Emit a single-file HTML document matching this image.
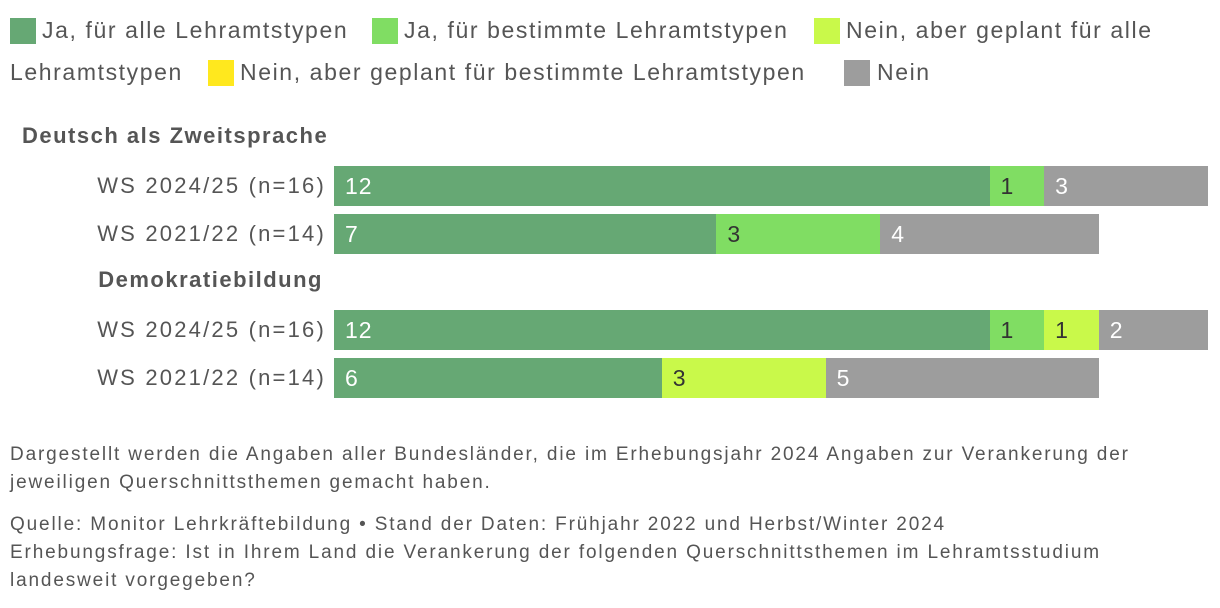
<!DOCTYPE html>
<html><head><meta charset="utf-8"><style>
body{margin:0;width:1220px;height:608px;background:#fff;font-family:"Liberation Sans",sans-serif;color:#555;overflow:hidden;position:relative}
.abs{position:absolute;white-space:nowrap}
.sw{position:absolute;width:26px;height:26px}
.lg{font-size:23px;letter-spacing:1.6px}
.t{font-size:22px;letter-spacing:2.2px}
.b{font-size:22px;letter-spacing:1.5px;font-weight:bold}
.f{font-size:19px;color:#555;letter-spacing:1.85px}
</style></head><body>
<div>
<div class="sw" style="left:10px;top:18px;background:#66a874"></div><div class="abs lg" style="left:42px;top:17px">Ja, für alle Lehramtstypen</div>
<div class="sw" style="left:372px;top:18px;background:#80dd63"></div><div class="abs lg" style="left:404px;top:17px">Ja, für bestimmte Lehramtstypen</div>
<div class="sw" style="left:814px;top:18px;background:#c9f94a"></div><div class="abs lg" style="left:846px;top:17px">Nein, aber geplant für alle</div>
<div class="abs lg" style="left:10px;top:59px">Lehramtstypen</div>
<div class="sw" style="left:208px;top:60px;background:#ffe81e"></div><div class="abs lg" style="left:240px;top:59px">Nein, aber geplant für bestimmte Lehramtstypen</div>
<div class="sw" style="left:844px;top:60px;background:#9d9d9d"></div><div class="abs lg" style="left:877px;top:59px">Nein</div>
</div>
<div class="abs b" style="left:22px;top:123px">Deutsch als Zweitsprache</div>
<div class="abs b" style="right:897px;top:267px">Demokratiebildung</div>
<div id="chart"></div>
<div class="abs f" style="left:10px;top:441px;line-height:28px">Dargestellt werden die Angaben aller Bundesländer, die im Erhebungsjahr 2024 Angaben zur Verankerung der<br>jeweiligen Querschnittsthemen gemacht haben.</div>
<div class="abs f" style="left:10px;top:511px;line-height:28px">Quelle: Monitor Lehrkräftebildung • Stand der Daten: Frühjahr 2022 und Herbst/Winter 2024<br>Erhebungsfrage: Ist in Ihrem Land die Verankerung der folgenden Querschnittsthemen im Lehramtsstudium<br>landesweit vorgegeben?</div>
<script>
const rowLabels=["WS 2024/25 (n=16)","WS 2021/22 (n=14)","WS 2024/25 (n=16)","WS 2021/22 (n=14)"];
const rowTops=[166,214,310,358];
const sJaAlle=[12,7,12,6];
const sJaBest=[1,3,1,0];
const sGepAlle=[0,0,1,3];
const sGepBest=[0,0,0,0];
const sNein=[3,4,2,5];
const colors=["#66a874","#80dd63","#c9f94a","#ffe81e","#9d9d9d"];
const txt=["#fff","#333","#333","#333","#fff"];
const x0=334,unit=874/16;
const c=document.getElementById('chart');
const series=[sJaAlle,sJaBest,sGepAlle,sGepBest,sNein];
rowLabels.forEach((lab,i)=>{
 const l=document.createElement('div');l.className='abs t';
 
 
 l.style.right=(1220-326)+'px';l.style.top=(rowTops[i]+7)+'px';l.textContent=lab;c.appendChild(l);
 let acc=0;
 series.forEach((s,k)=>{
  const v=s[i];if(!v)return;
  const b=document.createElement('div');
  
  
  b.style.cssText=`position:absolute;left:${x0+acc*unit}px;top:${rowTops[i]}px;width:${v*unit}px;height:40px;background:${colors[k]};color:${txt[k]};font-size:23px;line-height:40px;padding-left:11px;box-sizing:border-box;letter-spacing:1px`;
  b.textContent=v;c.appendChild(b);acc+=v;
 });
});
</script>
</body></html>
